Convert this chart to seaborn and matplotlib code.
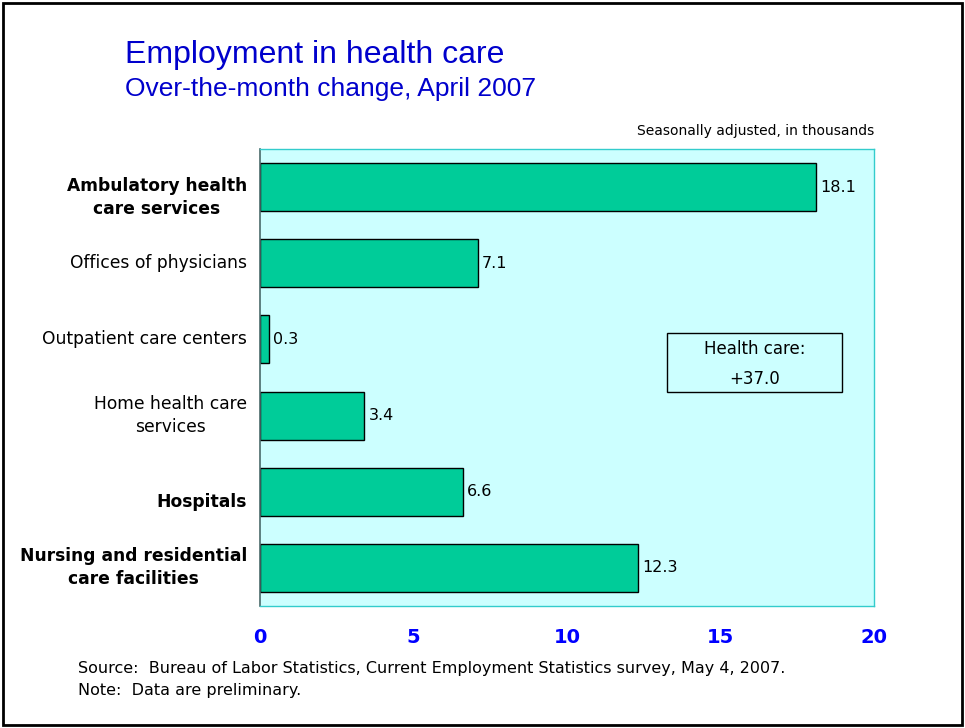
import matplotlib
matplotlib.use("Agg")
import matplotlib.pyplot as plt
import matplotlib.patches as mpatches
import matplotlib.transforms as mtransforms
import seaborn as sns
import pandas as pd

categories = [
    "Ambulatory health\ncare services",
    "Offices of physicians",
    "Outpatient care centers",
    "Home health care\nservices",
    "Hospitals",
    "Nursing and residential\ncare facilities",
]
bold_rows = [True, False, False, False, True, True]
changes = [18.1, 7.1, 0.3, 3.4, 6.6, 12.3]
x_ticks = [0, 5, 10, 15, 20]
total_label = "Health care:\n+37.0"

df = pd.DataFrame({"category": categories, "change": changes})

sns.set_style("white")
plt.rcParams["font.family"] = ["DejaVu Sans"]
plt.rcParams["text.color"] = "black"

fig = plt.figure(figsize=(9.65, 7.28), dpi=100)
ax = fig.add_axes([260 / 965, 1 - 606 / 728, 614 / 965, 457 / 728])

sns.barplot(data=df, x="change", y="category", orient="h", color="#00CC99",
            width=0.63, edgecolor="black", linewidth=1, saturation=1, ax=ax)

ax.set_facecolor("#CCFFFF")
ax.set_xlim(0, 20)
ax.set_ylim(5.5, -0.5)
ax.set_xlabel("")
ax.set_ylabel("")
ax.set_xticks(x_ticks)
ax.set_xticklabels([str(t) for t in x_ticks], color="#0000FF",
                   fontweight="bold", fontsize=14)
ax.tick_params(axis="x", length=0, pad=16)
ax.set_yticks(range(len(categories)))
ax.set_yticklabels([])
ax.tick_params(axis="y", length=0)

# category labels drawn by hand so bold rows can sit a bit lower, as in the original
label_trans = ax.get_yaxis_transform()
for i, (cat, b) in enumerate(zip(categories, bold_rows)):
    shift = 0.14 if (b and i < 5) else 0.0
    ax.text(-13 / 614, i + shift, cat, transform=label_trans, ha="right", va="center",
            multialignment="center", fontsize=12.3, linespacing=1.35,
            fontweight="bold" if b else "normal", color="black")

for side in ["top", "right", "bottom"]:
    ax.spines[side].set_color("#33CCCC")
    ax.spines[side].set_linewidth(1)
ax.spines["left"].set_color("#4A6A6A")
ax.spines["left"].set_linewidth(1.2)

ax.bar_label(ax.containers[0], labels=[f"{v:.1f}" for v in changes],
             padding=3, fontsize=11.5, color="black")

# summary box
ax.add_patch(mpatches.Rectangle((667 / 965, 1 - 392 / 728), 175 / 965, 59 / 728,
                                transform=fig.transFigure, facecolor="none",
                                edgecolor="black", linewidth=1, zorder=5))
fig.text(754.5 / 965, 1 - 364 / 728, total_label, ha="center", va="center",
         fontsize=12, linespacing=1.8)

fig.text(125 / 965, 1 - 55 / 728, "Employment in health care", color="#0000CC",
         fontsize=23, family="Liberation Sans", va="center")
fig.text(125 / 965, 1 - 89 / 728, "Over-the-month change, April 2007", color="#0000CC",
         fontsize=19, family="Liberation Sans", va="center")
fig.text(874 / 965, 1 - 131 / 728, "Seasonally adjusted, in thousands",
         ha="right", va="center", fontsize=10)
fig.text(78 / 965, 1 - 669 / 728,
         "Source:  Bureau of Labor Statistics, Current Employment Statistics survey, May 4, 2007.",
         va="center", fontsize=11.5)
fig.text(78 / 965, 1 - 691 / 728, "Note:  Data are preliminary.", va="center", fontsize=11.5)

# outer frame
fig.patches.append(mpatches.Rectangle((3 / 965, 3 / 728), 959 / 965, 722 / 728,
                                      transform=fig.transFigure, facecolor="none",
                                      edgecolor="black", linewidth=2))

fig.savefig("out.png", dpi=100)
